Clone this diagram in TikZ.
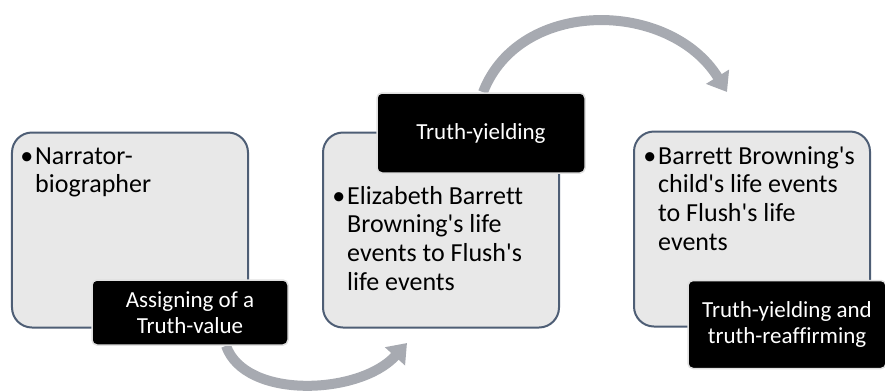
\documentclass[tikz,border=0pt]{standalone}
\usepackage{fontspec}
\setmainfont{Carlito}[Ligatures={TeX,NoCommon}]
\usetikzlibrary{arrows.meta,backgrounds}
\definecolor{boxfill}{RGB}{232,232,232}
\definecolor{boxline}{RGB}{78,94,117}
\definecolor{flowgray}{RGB}{167,170,177}
\newcommand{\ap}{\textquotesingle}
\newcommand{\bul}{\llap{\textbullet\hspace{2bp}}\strut}
\tikzset{
  stage/.style={draw=boxline, line width=2bp, fill=boxfill, rounded corners=20bp,
    minimum width=236bp, minimum height=195bp, inner sep=0},
  tag/.style={draw=black!12, line width=1.5bp, fill=black, text=white, rounded corners=5bp,
    align=center, inner sep=0, font=\fontsize{23bp}{26bp}\selectfont},
  item/.style={anchor=north west, align=left, inner sep=0,
    font=\fontsize{26bp}{28.7bp}\selectfont},
  flow/.style={draw=flowgray, line width=10bp, -{Triangle[width=26bp,length=18bp]}}
}
\begin{document}
\begin{tikzpicture}[x=1bp, y=-1bp]
  \useasboundingbox (0,0) rectangle (885,391);
  % stages
  \node[stage] (s1) at (130,230) {};
  \node[stage] (s2) at (441,230) {};
  \node[stage] (s3) at (752,229) {};
  \node[item] (t1) at (35,144) {\bul Narrator-\\biographer};
  \node[item] (t2) at (347,184) {\bul Elizabeth Barrett\\Browning\ap s life\\events to Flush\ap s\\life events};
  \node[item] (t3) at (658,144) {\bul Barrett Browning\ap s\\child\ap s life events\\to Flush\ap s life\\events};
  % tags
  \node[tag, minimum width=196bp, minimum height=65bp] (lab1) at (190,312.5) {Assigning of a\\Truth-value};
  \node[tag, minimum width=208bp, minimum height=80bp] (lab2) at (481,133) {Truth-yielding};
  \node[tag, minimum width=198bp, minimum height=88bp] (lab3) at (787,324.5) {Truth-yielding and\\truth-reaffirming};
  % flows
  \coordinate (tip1) at (407,343);
  \coordinate (tip2) at (727,92);
  \begin{pgfonlayer}{background}
    \draw[flow] ([xshift=36bp]lab1.south) .. controls (245,400) and (360,395) .. (tip1);
    \draw[flow] ([xshift=2bp]lab2.north) .. controls (520,-3) and (670,0) .. (tip2);
  \end{pgfonlayer}
\end{tikzpicture}
\end{document}
